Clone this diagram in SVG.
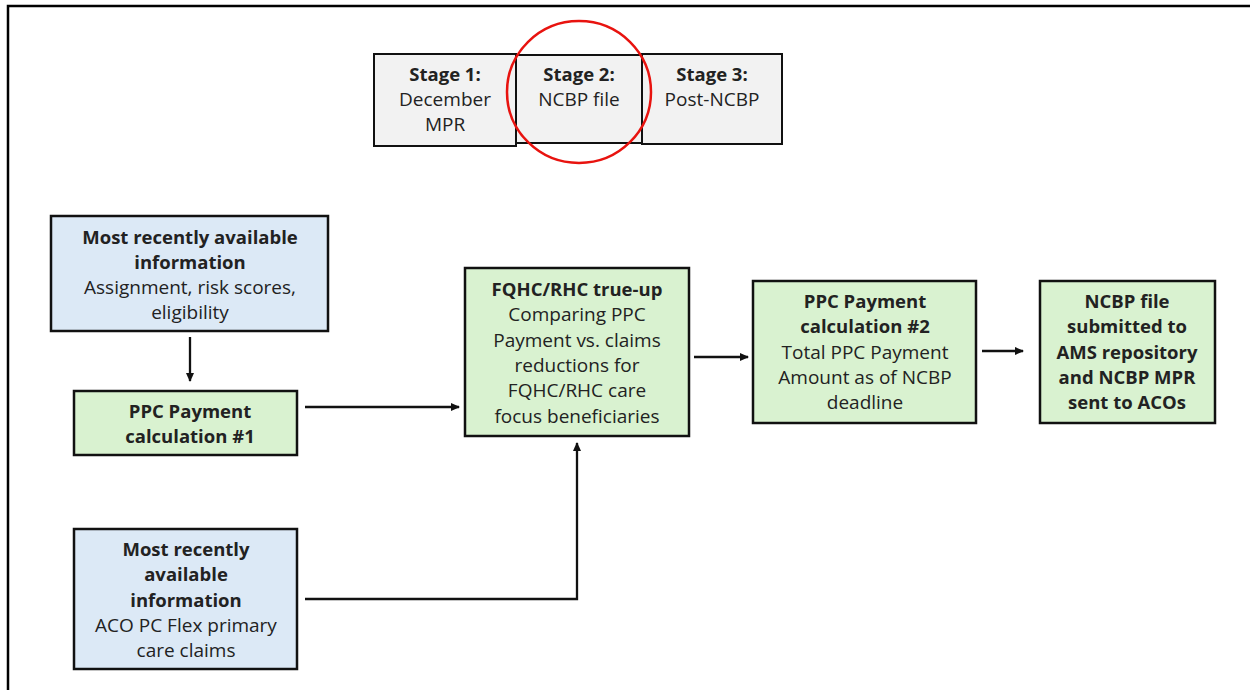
<svg xmlns="http://www.w3.org/2000/svg" width="1250" height="690" viewBox="0 0 1250 690">
<style>
text{font-family:"Open Sans","Noto Sans","Liberation Sans",sans-serif;font-size:19px;fill:#222;text-anchor:middle}
.b{font-weight:bold;font-size:18.5px}
.stage{fill:#f2f2f2;stroke:#111;stroke-width:2}
.blue{fill:#dce9f6;stroke:#111;stroke-width:2.5}
.green{fill:#d9f2d0;stroke:#111;stroke-width:2.5}
.con{fill:none;stroke:#111;stroke-width:2.3}
</style>
<defs>
<marker id="ah" markerWidth="10" markerHeight="10" refX="8" refY="5" orient="auto" markerUnits="userSpaceOnUse">
<path d="M0,1 L9,5 L0,9 Z" fill="#111"/>
</marker>
</defs>
<rect width="1250" height="690" fill="#fff"/>
<path d="M8,690 L8,6 L1250,6" fill="none" stroke="#000" stroke-width="2.5"/>
<g id="stage1"><rect class="stage" x="374" y="54" width="142" height="92"/>
<text x="445" y="81" class="b">Stage 1:</text><text x="445" y="106">December</text><text x="445" y="131">MPR</text></g>
<g id="stage2"><rect class="stage" x="516" y="55" width="126" height="88"/>
<text x="579" y="81" class="b">Stage 2:</text><text x="579" y="106">NCBP file</text></g>
<g id="stage3"><rect class="stage" x="642" y="54" width="140" height="90"/>
<text x="712" y="81" class="b">Stage 3:</text><text x="712" y="106">Post-NCBP</text></g>
<g id="highlight"><ellipse cx="579" cy="92" rx="72" ry="71" fill="none" stroke="#e8130f" stroke-width="2.5"/></g>
<g id="info1"><rect class="blue" x="51" y="216" width="277" height="115"/>
<text x="190" y="244" class="b">Most recently available</text><text x="190" y="269" class="b">information</text><text x="190" y="294">Assignment, risk scores,</text><text x="190" y="319">eligibility</text></g>
<g id="ppc1"><rect class="green" x="74" y="391" width="223" height="64"/>
<text x="190" y="418" class="b">PPC Payment</text><text x="190" y="443" class="b">calculation #1</text></g>
<g id="trueup"><rect class="green" x="465" y="268" width="224" height="168"/>
<text x="577" y="296" class="b">FQHC/RHC true-up</text><text x="577" y="321">Comparing PPC</text><text x="577" y="347">Payment vs. claims</text><text x="577" y="372">reductions for</text><text x="577" y="397">FQHC/RHC care</text><text x="577" y="423">focus beneficiaries</text></g>
<g id="ppc2"><rect class="green" x="753" y="281" width="223" height="142"/>
<text x="865" y="308" class="b">PPC Payment</text><text x="865" y="333" class="b">calculation #2</text><text x="865" y="359">Total PPC Payment</text><text x="865" y="384">Amount as of NCBP</text><text x="865" y="409">deadline</text></g>
<g id="ncbp"><rect class="green" x="1040" y="281" width="175" height="142"/>
<text x="1127" y="308" class="b">NCBP file</text><text x="1127" y="333" class="b">submitted to</text><text x="1127" y="359" class="b">AMS repository</text><text x="1127" y="384" class="b">and NCBP MPR</text><text x="1127" y="409" class="b">sent to ACOs</text></g>
<g id="info2"><rect class="blue" x="74" y="529" width="223" height="140"/>
<text x="186" y="556" class="b">Most recently</text><text x="186" y="581" class="b">available</text><text x="186" y="607" class="b">information</text><text x="186" y="632">ACO PC Flex primary</text><text x="186" y="657">care claims</text></g>
<g id="connectors">
<line class="con" x1="190" y1="337" x2="190" y2="381" marker-end="url(#ah)"/>
<line class="con" x1="305" y1="407" x2="459" y2="407" marker-end="url(#ah)"/>
<line class="con" x1="694" y1="357" x2="748" y2="357" marker-end="url(#ah)"/>
<line class="con" x1="982" y1="351" x2="1023" y2="351" marker-end="url(#ah)"/>
<polyline class="con" points="305,599 577,599 577,443" marker-end="url(#ah)"/>
</g>
</svg>
